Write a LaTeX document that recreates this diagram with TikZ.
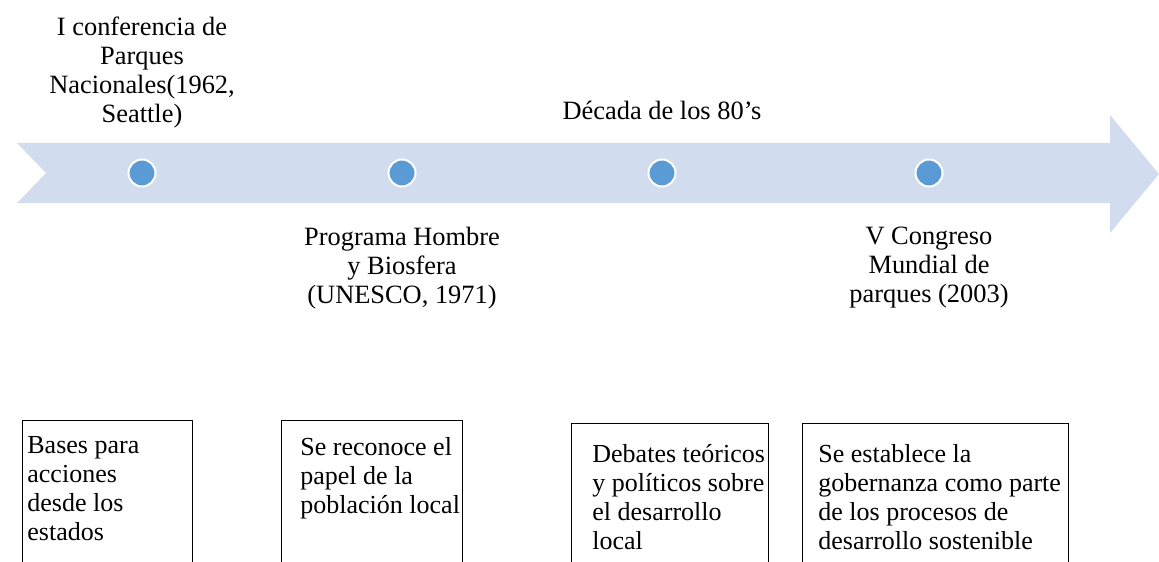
\documentclass[tikz,border=0pt]{standalone}
\usepackage{fontspec}
\setmainfont{Liberation Serif}
\usetikzlibrary{positioning}
\definecolor{bandblue}{RGB}{209,221,238}
\definecolor{dotblue}{RGB}{91,155,213}

\begin{document}
\begin{tikzpicture}[x=0.5pt,y=-0.5pt,
    dot/.style={circle,fill=dotblue,draw=white,line width=1pt,minimum size=13.5pt,inner sep=0pt},
    evtext/.style={align=center,inner sep=0pt,anchor=north,font=\fontsize{13.2}{14.5}\selectfont},
    boxframe/.style={draw,line width=0.7pt,anchor=north west,inner sep=0pt,minimum height=90pt},
    boxtext/.style={align=left,inner sep=0pt,anchor=north west,font=\fontsize{13}{14.5}\selectfont}]
    \clip (0,0) rectangle (1159,561);
    % timeline band
    \fill[bandblue] (17,143) -- (1110,143) -- (1110,115) -- (1159,174) -- (1110,233)
        -- (1110,203) -- (17,203) -- (46,173) -- cycle;
    \node[dot] (d1) at (142,173) {};
    \node[dot] (d2) at (402,173) {};
    \node[dot] (d3) at (662,173) {};
    \node[dot] (d4) at (929,173) {};
    % events
    \node[evtext] (e1) at (142,17) {I conferencia de\\Parques\\Nacionales(1962,\\Seattle)};
    \node[evtext] (e2) at (402,227) {Programa Hombre\\y Biosfera\\(UNESCO, 1971)};
    \node[evtext] (e3) at (662,101) {Década de los 80’s};
    \node[evtext] (e4) at (929,227) {V Congreso\\Mundial de\\parques (2003)};
    % boxes
    \node[boxframe,minimum width=85pt] (f1) at (22,420) {};
    \node[boxframe,minimum width=90.5pt] (f2) at (281,420) {};
    \node[boxframe,minimum width=98.5pt] (f3) at (571,423) {};
    \node[boxframe,minimum width=133pt] (f4) at (802,423) {};
    \node[boxtext] (t1) at ([xshift=2.5pt,yshift=-8pt]f1.north west) {Bases para\\acciones\\desde los\\estados};
    \node[boxtext] (t2) at ([xshift=9.5pt,yshift=-8.5pt]f2.north west) {Se reconoce el\\papel de la\\población local};
    \node[boxtext] (t3) at ([xshift=10.5pt,yshift=-10.5pt]f3.north west) {Debates teóricos\\y políticos sobre\\el desarrollo\\local};
    \node[boxtext] (t4) at ([xshift=8pt,yshift=-10.5pt]f4.north west) {Se establece la\\gobernanza como parte\\de los procesos de\\desarrollo sostenible};
\end{tikzpicture}
\end{document}
